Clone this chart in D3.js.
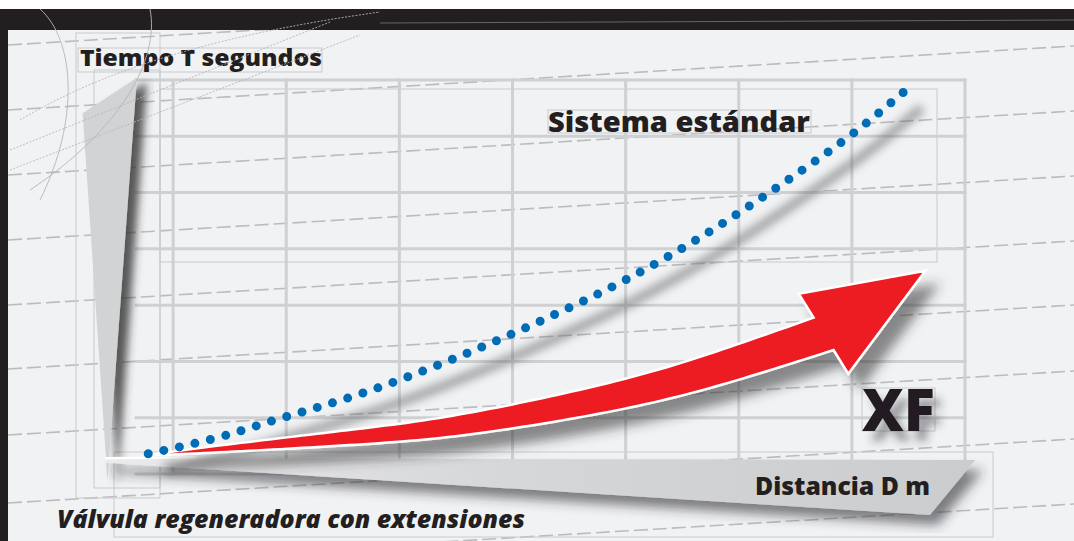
<!DOCTYPE html>
<html>
<head>
<meta charset="utf-8">
<script src="https://cdn.jsdelivr.net/npm/d3@7"></script>
<style>
  html, body { margin: 0; padding: 0; background: #fff; }
  svg { display: block; font-family: "Open Sans", "Noto Sans", sans-serif; }
</style>
</head>
<body>
<div id="chart"></div>
<script>
var width = 1074, height = 541;
var ink = "#231f20";

// Sistema estándar: distancia D (m) y tiempo T (s)
var distEstandar   = [0.78, 1.47, 1.87, 2.68, 3.47, 4.25, 5.01, 5.38, 6.46, 7.03, 7.46];
var tiempoEstandar = [0.36, 0.69, 0.94, 1.44, 2.04, 2.72, 3.46, 3.87, 5.26, 6.08, 6.79];

// Válvula XF (el último punto es la punta de la flecha)
var distXF   = [0.80, 2.65, 3.36, 4.24, 5.13, 5.83, 6.75, 7.65];
var tiempoXF = [0.34, 0.66, 0.80, 1.10, 1.47, 1.87, 2.49, 3.61];

var gridDist   = [1, 2, 3, 4, 5, 6, 7, 8];
var gridTiempo = [0, 1, 2, 3, 4, 5, 6, 7];

var x = d3.scaleLinear().domain([0, 8]).range([60, 965]);
var y = d3.scaleLinear().domain([0, 7]).range([474, 80]);

var svg = d3.select("#chart").append("svg")
    .attr("width", width)
    .attr("height", height);

var defs = svg.append("defs");

function dropShadow(id, dx, dy, sd, op) {
    defs.append("filter").attr("id", id)
        .attr("x", "-30%").attr("y", "-30%").attr("width", "160%").attr("height", "160%")
        .append("feDropShadow")
        .attr("dx", dx).attr("dy", dy).attr("stdDeviation", sd)
        .attr("flood-color", "#2e2e30").attr("flood-opacity", op);
}
dropShadow("sh-arrow", 12, 14, 6, 0.55);
dropShadow("sh-wedge", 10, 4, 4, 0.8);
dropShadow("sh-band", 8, 10, 6, 0.6);
dropShadow("sh-text", 8, 10, 4, 0.45);
defs.append("filter").attr("id", "blur")
    .attr("x", "-20%").attr("y", "-20%").attr("width", "140%").attr("height", "140%")
    .append("feGaussianBlur").attr("stdDeviation", 4);

var bandGrad = defs.append("linearGradient").attr("id", "band-grad");
bandGrad.append("stop").attr("offset", "0%").attr("stop-color", "#ebebec");
bandGrad.append("stop").attr("offset", "45%").attr("stop-color", "#d6d7d9");
bandGrad.append("stop").attr("offset", "100%").attr("stop-color", "#cbcccd");

// fondo
svg.append("rect").attr("width", width).attr("height", height).attr("fill", "#f1f2f4");

// líneas discontinuas de fondo
var deco = svg.append("g").attr("fill", "none");
deco.selectAll("line.dash")
    .data([45, 110, 175, 240, 305, 369, 435, 503, 568])
    .enter().append("line")
    .attr("class", "dash")
    .attr("x1", 8).attr("x2", width)
    .attr("y1", function (d) { return d; })
    .attr("y2", function (d) { return d - 64; })
    .attr("stroke", "#a9aaac")
    .attr("stroke-width", 1.6)
    .attr("stroke-dasharray", "14 5")
    .attr("opacity", 0.75);

// cajas finas
var boxes = [
    [78, 48, 244, 24], [548, 110, 263, 23], [862, 388, 73, 43],
    [160, 89, 777, 173], [114, 452, 879, 85], [76, 33, 84, 465], [94, 70, 66, 418]
];
svg.append("g").selectAll("rect").data(boxes).enter().append("rect")
    .attr("x", function (d) { return d[0]; })
    .attr("y", function (d) { return d[1]; })
    .attr("width", function (d) { return d[2]; })
    .attr("height", function (d) { return d[3]; })
    .attr("fill", "none")
    .attr("stroke", "#c9cacc")
    .attr("stroke-width", 1);

// rejilla
var grid = svg.append("g").attr("stroke", "#cfd0d2").attr("stroke-width", 3);
grid.selectAll("line.gv").data(gridDist).enter().append("line")
    .attr("class", "gv")
    .attr("x1", function (d) { return x(d); })
    .attr("x2", function (d) { return x(d); })
    .attr("y1", y(7) - 1.5)
    .attr("y2", y(0));
grid.selectAll("line.gh").data(gridTiempo).enter().append("line")
    .attr("class", "gh")
    .attr("x1", x(0.66))
    .attr("x2", x(8) + 1.5)
    .attr("y1", function (d) { return y(d); })
    .attr("y2", function (d) { return y(d); });

// eje vertical (cuña gris)
var wedge = [[x(0.20), y(6.41)], [x(0.68), y(7.04)], [x(0.42), y(-0.11)]];
svg.append("path")
    .attr("d", "M" + wedge[0] + "L" + wedge[1] + "L" + wedge[2] + "Z")
    .attr("fill", "#d2d3d5")
    .attr("filter", "url(#sh-wedge)");

// eje horizontal (banda gris)
var band = [[x(0.40), y(0.28)], [x(8.09), y(0.25)], [x(7.69), y(-0.73)], [x(0.40), y(0.20)]];
svg.append("path")
    .attr("d", "M" + band.join("L") + "Z")
    .attr("fill", "url(#band-grad)")
    .attr("filter", "url(#sh-band)");
svg.append("line")
    .attr("x1", band[0][0]).attr("y1", band[0][1])
    .attr("x2", x(1.2)).attr("y2", band[0][1] - 1)
    .attr("stroke", "#fff").attr("stroke-width", 2.5);

// curva del sistema estándar
var ptsEstandar = distEstandar.map(function (d, i) { return [x(d), y(tiempoEstandar[i])]; });
var lineGen = d3.line().curve(d3.curveMonotoneX);
var smoothGen = d3.line().curve(d3.curveBasis);

svg.append("path")
    .attr("d", lineGen(ptsEstandar))
    .attr("transform", "translate(18,16)")
    .attr("fill", "none")
    .attr("stroke", "#5d5e61")
    .attr("stroke-width", 10)
    .attr("opacity", 0.5)
    .attr("filter", "url(#blur)");

// flecha XF
var ptsXF = distXF.map(function (d, i) { return [x(d), y(tiempoXF[i])]; });
var tip = ptsXF[ptsXF.length - 1];
var bodyPts = ptsXF.slice(0, -1);
var base = bodyPts[bodyPts.length - 1];

var guide = svg.append("path")
    .attr("d", smoothGen(bodyPts))
    .attr("fill", "none").attr("stroke", "none");
var gnode = guide.node(), L = gnode.getTotalLength();

var ux = tip[0] - base[0], uy = tip[1] - base[1], ul = Math.hypot(ux, uy);
ux /= ul; uy /= ul;
var px = -uy, py = ux;

var N = 90, topEdge = [], botEdge = [];
for (var i = 0; i <= N; i++) {
    var t = i / N, s = t * L;
    var a = gnode.getPointAtLength(Math.max(0, s - 1));
    var b = gnode.getPointAtLength(Math.min(L, s + 1));
    var c = gnode.getPointAtLength(s);
    var tx = b.x - a.x, ty = b.y - a.y, tl = Math.hypot(tx, ty);
    var nx = -ty / tl, ny = tx / tl;
    var k = Math.max(0, (t - 0.8) / 0.2);
    nx = nx * (1 - k) + px * k; ny = ny * (1 - k) + py * k;
    var nl = Math.hypot(nx, ny); nx /= nl; ny /= nl;
    var h = 19 * Math.pow(t, 0.75);
    topEdge.push([c.x - nx * h, c.y - ny * h]);
    botEdge.push([c.x + nx * h, c.y + ny * h]);
}
var head = [[base[0] - px * 47, base[1] - py * 47], tip, [base[0] + px * 47, base[1] + py * 47]];
var outline = topEdge.concat(head, botEdge.reverse());

svg.append("path")
    .attr("d", "M" + outline.join("L") + "Z")
    .attr("fill", "#ed1c24")
    .attr("stroke", "#fff")
    .attr("stroke-width", 2.5)
    .attr("stroke-linejoin", "miter")
    .attr("filter", "url(#sh-arrow)");

// puntos azules
var dots = svg.append("path")
    .attr("d", lineGen(ptsEstandar))
    .attr("fill", "none")
    .attr("stroke", "#006cb5")
    .attr("stroke-width", 9)
    .attr("stroke-linecap", "round");
var dotLen = dots.node().getTotalLength();
var gap = dotLen / Math.round(dotLen / 16) - 0.02;
dots.attr("stroke-dasharray", "0 " + gap);

// textos
function label(txt, tx, ty, size, len, opts) {
    opts = opts || {};
    return svg.append("text")
        .attr("x", tx).attr("y", ty)
        .attr("font-size", size + "px")
        .attr("font-weight", opts.weight || 800)
        .attr("font-style", opts.style || "normal")
        .attr("textLength", len)
        .attr("lengthAdjust", "spacingAndGlyphs")
        .attr("fill", ink)
        .text(txt);
}
label("Tiempo T segundos", 80, 66, 23, 242);
label("Sistema estándar", 548, 132, 29, 262);
label("XF", 862, 431, 58, 73).attr("filter", "url(#sh-text)");
label("Distancia D m", 755, 495, 24, 175);
label("Válvula regeneradora con extensiones", 57, 528, 24, 468, {style: "italic"});

// marco superior e izquierdo
svg.append("rect").attr("x", 0).attr("y", 0).attr("width", width).attr("height", 9).attr("fill", "#fff");
svg.append("rect").attr("x", 0).attr("y", 9).attr("width", width).attr("height", 21).attr("fill", ink);
svg.append("rect").attr("x", 0).attr("y", 9).attr("width", 8).attr("height", height - 9).attr("fill", ink);
svg.append("line").attr("x1", 380).attr("y1", 23).attr("x2", width).attr("y2", 20)
    .attr("stroke", "#77787a").attr("stroke-width", 0.8);

// trazos decorativos arriba a la izquierda
var arcs = [
    "M40,9 C75,40 80,120 40,200",
    "M150,9 C160,60 120,130 30,190",
    "M10,170 L360,35",
    "M10,150 L330,22",
    "M20,120 C120,60 250,30 380,12"
];
svg.append("g").selectAll("path").data(arcs).enter().append("path")
    .attr("d", function (d) { return d; })
    .attr("fill", "none")
    .attr("stroke", "#b4b5b7")
    .attr("stroke-width", 0.9)
    .attr("stroke-dasharray", function (d, i) { return i > 1 ? "2 1.5" : null; });
</script>
</body>
</html>
